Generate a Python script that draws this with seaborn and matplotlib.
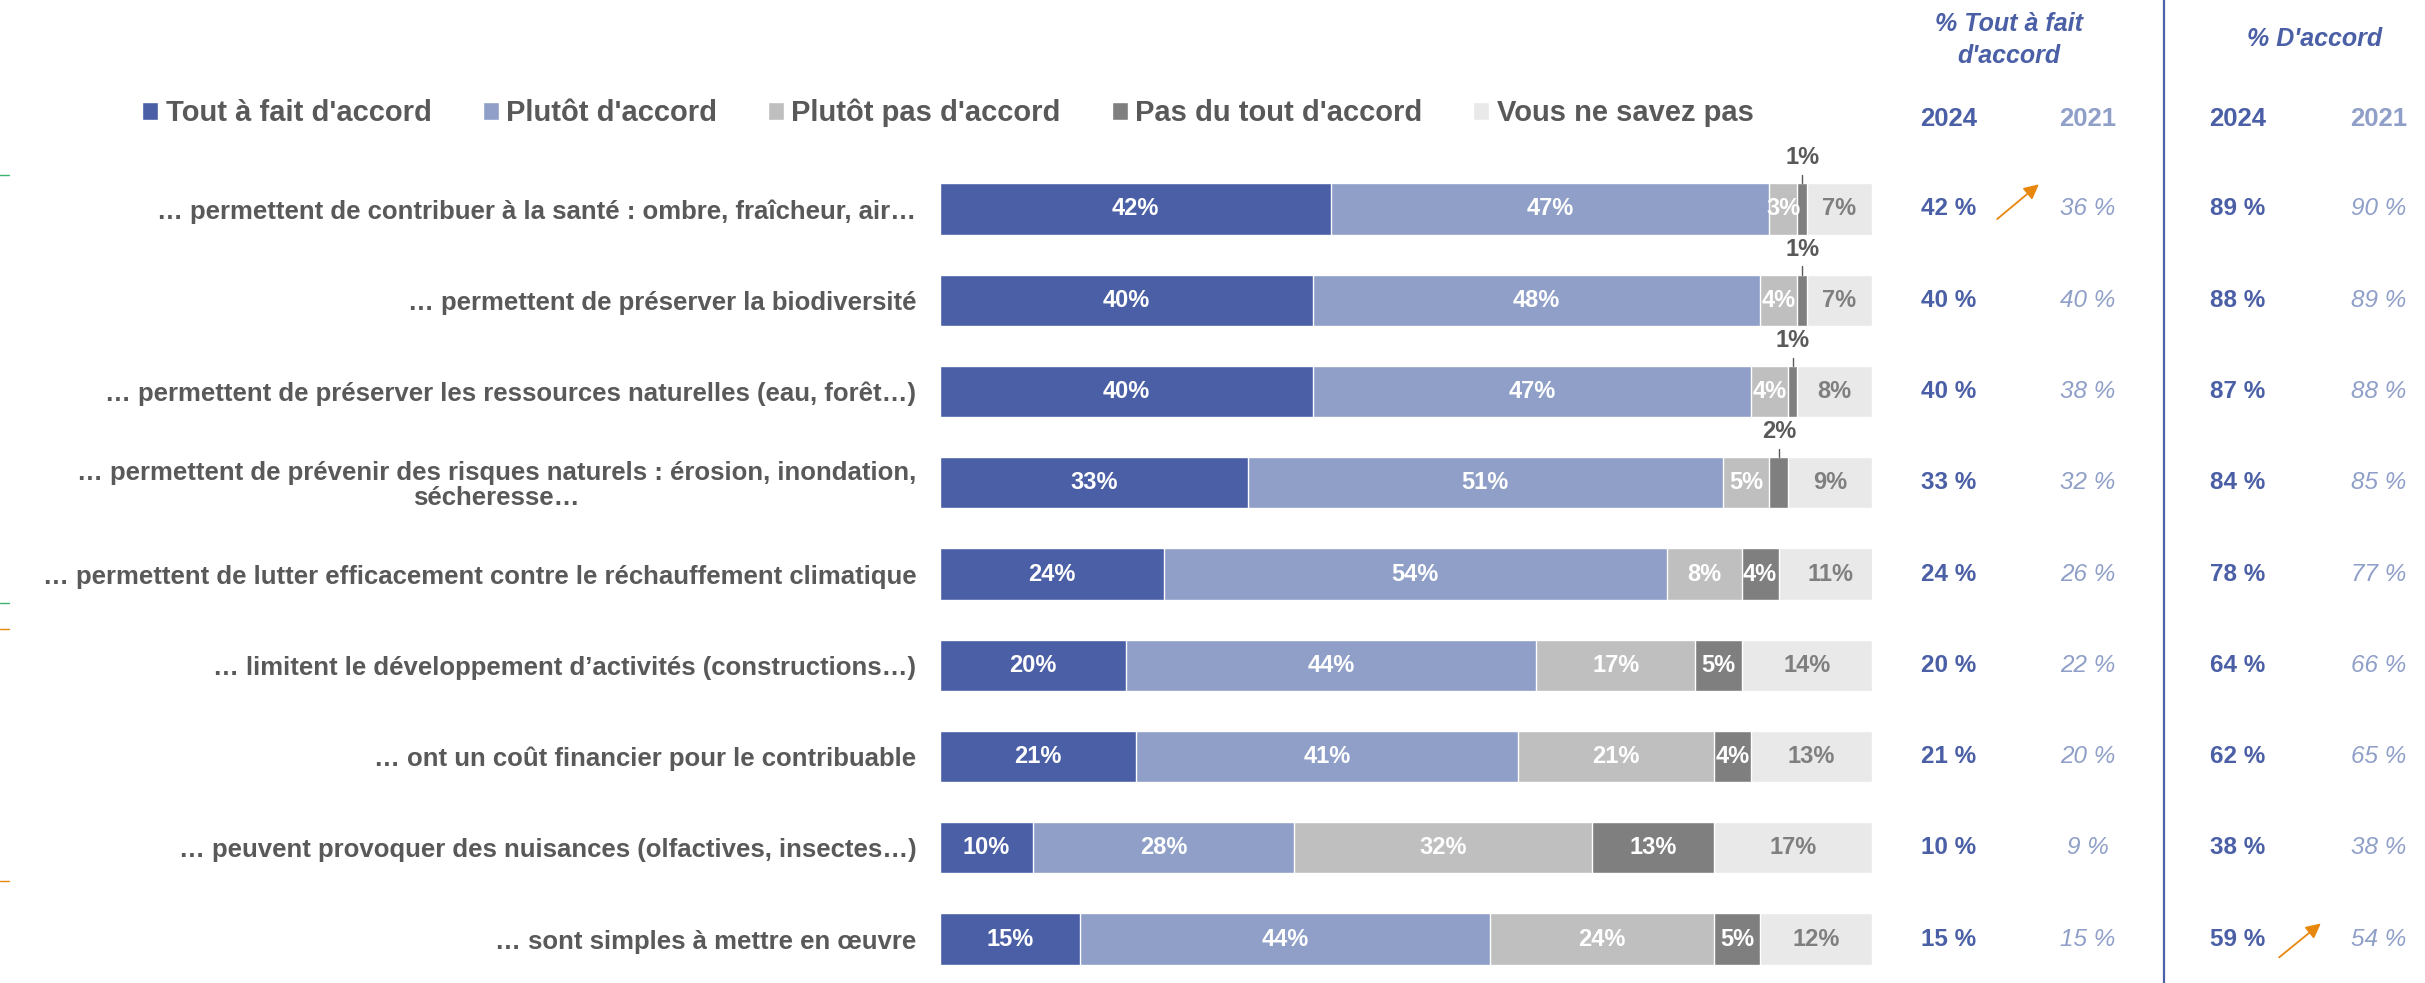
import matplotlib
matplotlib.use('Agg')
import matplotlib.pyplot as plt
import matplotlib.transforms as mtransforms
from matplotlib import font_manager
from matplotlib.lines import Line2D
from matplotlib.patches import Patch
import pandas as pd
import seaborn as sns

# Data
items = [
    "… permettent de contribuer à la santé : ombre, fraîcheur, air…",
    "… permettent de préserver la biodiversité",
    "… permettent de préserver les ressources naturelles (eau, forêt…)",
    "… permettent de prévenir des risques naturels : érosion, inondation,\nsécheresse…",
    "… permettent de lutter efficacement contre le réchauffement climatique",
    "… limitent le développement d’activités (constructions…)",
    "… ont un coût financier pour le contribuable",
    "… peuvent provoquer des nuisances (olfactives, insectes…)",
    "… sont simples à mettre en œuvre",
]
answers = ["Tout à fait d'accord", "Plutôt d'accord", "Plutôt pas d'accord",
           "Pas du tout d'accord", "Vous ne savez pas"]
tout_a_fait = [42, 40, 40, 33, 24, 20, 21, 10, 15]
plutot = [47, 48, 47, 51, 54, 44, 41, 28, 44]
plutot_pas = [3, 4, 4, 5, 8, 17, 21, 32, 24]
pas_du_tout = [1, 1, 1, 2, 4, 5, 4, 13, 5]
ne_sait_pas = [7, 7, 8, 9, 11, 14, 13, 17, 12]

tfa_2024 = [42, 40, 40, 33, 24, 20, 21, 10, 15]
tfa_2021 = [36, 40, 38, 32, 26, 22, 20, 9, 15]
acc_2024 = [89, 88, 87, 84, 78, 64, 62, 38, 59]
acc_2021 = [90, 89, 88, 85, 77, 66, 65, 38, 54]

colors = ['#4a5fa5', '#8f9fc8', '#bfbfbf', '#7f7f7f', '#e9e9e9']
blue, light_blue, dark_grey = '#4a5fa5', '#8f9fc8', '#595959'

installed = {f.name for f in font_manager.fontManager.ttflist}
narrow = 'Liberation Sans Narrow' if 'Liberation Sans Narrow' in installed else 'Liberation Sans'

sns.set_theme(style='white')
plt.rcParams['font.family'] = [narrow, 'DejaVu Sans']

df = pd.DataFrame(dict(zip(answers, [tout_a_fait, plutot, plutot_pas, pas_du_tout, ne_sait_pas])))
cum = df.cumsum(axis=1)
cum['item'] = items

W, H = 2425, 983
fig = plt.figure(figsize=(W / 100, H / 100), dpi=100)
ax = fig.add_axes([940 / W, 0, 932 / W, 820 / H])

# stacked bars: draw cumulative totals from longest to shortest
for i in reversed(range(5)):
    sns.barplot(data=cum, x=answers[i], y='item', color=colors[i], orient='h',
                width=0.56, saturation=1, ax=ax)

ax.set_xlim(0, 100)
ax.set_ylim(8.482, -0.504)
ax.set_xlabel('')
ax.set_ylabel('')
ax.set_xticks([])
for s in ax.spines.values():
    s.set_visible(False)
ax.tick_params(axis='y', length=0, pad=17)
for t in ax.get_yticklabels():
    t.set_fontsize(18.5)
    t.set_fontweight('bold')
    t.set_color(dark_grey)
    t.set_multialignment('center')
    t.set_linespacing(1.05)

# segment labels
for r in range(len(items)):
    for i, a in enumerate(answers):
        v = df.loc[r, a]
        center = cum.loc[r, a] - v / 2
        if i == 3 and v <= 2:
            ax.plot([center, center], [r - 0.28, r - 0.37], color=dark_grey, lw=1)
            ax.text(center, r - 0.56, f'{v}%', ha='center', va='center',
                    fontsize=17, fontweight='bold', color=dark_grey, clip_on=False)
        else:
            ax.text(center, r, f'{v}%', ha='center', va='center', fontsize=17,
                    fontweight='bold', color='white' if i < 4 else '#7f7f7f')

# right-hand comparison columns
trans = mtransforms.blended_transform_factory(fig.transFigure, ax.transData)
cols = [(1949, tfa_2024, blue, 'normal', 'bold'),
        (2088, tfa_2021, light_blue, 'italic', 'normal'),
        (2238, acc_2024, blue, 'normal', 'bold'),
        (2379, acc_2021, light_blue, 'italic', 'normal')]
for x, vals, c, style, weight in cols:
    for r, v in enumerate(vals):
        ax.text(x / W, r, f'{v} %', transform=trans, ha='center', va='center',
                fontsize=17.5, color=c, style=style, fontweight=weight, clip_on=False)
    fig.text(x / W, 1 - 119 / H, '2024' if c == blue else '2021', ha='center',
             va='center', fontsize=18.5, fontweight='bold', color=c)

fig.text(2009 / W, 1 - 40 / H, "% Tout à fait\nd'accord", ha='center', va='center',
         fontsize=18, fontweight='bold', style='italic', color=blue, linespacing=1.4)
fig.text(2315 / W, 1 - 39 / H, "% D'accord", ha='center', va='center',
         fontsize=18, fontweight='bold', style='italic', color=blue)
fig.add_artist(Line2D([2164 / W] * 2, [0, 1], transform=fig.transFigure, color=blue, lw=1.6))

# evolution arrows
arrow = dict(arrowstyle='-|>', color='#e8870e', lw=1.3, mutation_scale=22)
ax.annotate('', xy=(2041 / W, -0.29), xytext=(1995 / W, 0.13), xycoords=trans,
            textcoords=trans, arrowprops=arrow, annotation_clip=False)
ax.annotate('', xy=(2323 / W, 7.81), xytext=(2277 / W, 8.22), xycoords=trans,
            textcoords=trans, arrowprops=arrow, annotation_clip=False)

# small marks on the left edge
for y, c in [(175, '#3cb371'), (603, '#3cb371'), (629, '#e8870e'), (881, '#e8870e')]:
    fig.add_artist(Line2D([0, 9 / W], [1 - y / H] * 2, transform=fig.transFigure, color=c, lw=1))

handles = [Patch(facecolor=c, label=a) for a, c in zip(answers, colors)]
fig.legend(handles=handles, loc='center left', bbox_to_anchor=(116 / W, 1 - 113 / H),
           ncol=5, frameon=False, handlelength=0.55, handleheight=0.55, handletextpad=0.25,
           columnspacing=1.75, labelcolor=dark_grey,
           prop=dict(weight='bold', size=21, family=[narrow, 'DejaVu Sans']))

fig.savefig('out.png', dpi=100)
